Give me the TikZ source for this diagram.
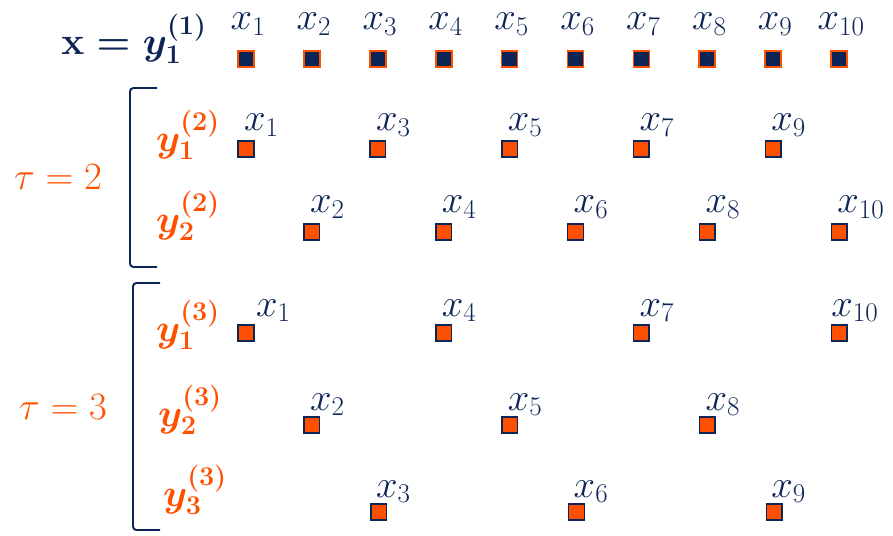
\RequirePackage{fix-cm}
\documentclass[tikz,border=0pt]{standalone}
\usepackage{amsmath}
\definecolor{navy}{HTML}{0D2556}
\definecolor{orng}{HTML}{FF5000}
\begin{document}
\begin{tikzpicture}[x=0.03cm,y=-0.03cm,
  topsq/.style={draw=orng,fill=navy,line width=1.4pt,minimum size=0.48cm,inner sep=0pt},
  sq/.style={draw=navy,fill=orng,line width=1.3pt,minimum size=0.47cm,inner sep=0pt},
  lab/.style={text=navy,inner sep=0pt,font=\fontsize{33}{38}\selectfont},
  ylab/.style={text=orng,inner sep=0pt,font=\fontsize{33}{38}\selectfont\boldmath},
  brk/.style={draw=navy,line width=1.7pt,rounded corners=3pt}]
\useasboundingbox (0,0) rectangle (893,536);
% top row
\foreach \i in {1,...,10}{
  \pgfmathsetmacro\xx{246+65.9*(\i-1)}
  \node[topsq] (t\i) at (\xx,59) {};
  \node[lab,anchor=base] (tl\i) at (\xx+2,30) {$x_{\i}$};
}
\node[lab,anchor=base,font=\fontsize{33}{38}\selectfont\boldmath] (xy) at (134,55) {$\mathbf{x}=y_1^{(1)}$};
% tau = 2
\node[text=orng,inner sep=0pt,anchor=base,font=\fontsize{33}{38}\selectfont] (tau2) at (58,190) {$\tau=2$};
\draw[brk] (157,88) -- (130,88) -- (130,267) -- (157,267);
\node[ylab] (y12) at (188,135) {$y_1^{(2)}$};
\node[ylab] (y22) at (188,216) {$y_2^{(2)}$};
\foreach \i in {1,3,5,7,9}{
  \pgfmathsetmacro\xx{246+65.9*(\i-1)}
  \node[sq] (a\i) at (\xx,149) {};
  \node[lab,anchor=base west] (al\i) at (\xx-2,131) {$x_{\i}$};
}
\foreach \i in {2,4,6,8,10}{
  \pgfmathsetmacro\xx{246+65.9*(\i-1)}
  \node[sq] (b\i) at (\xx,232) {};
  \node[lab,anchor=base west] (bl\i) at (\xx-2,213) {$x_{\i}$};
}
% tau = 3
\node[text=orng,inner sep=0pt,anchor=base,font=\fontsize{33}{38}\selectfont] (tau3) at (63,419) {$\tau=3$};
\draw[brk] (160,283) -- (133,283) -- (133,530) -- (160,530);
\node[ylab] (y13) at (188,325) {$y_1^{(3)}$};
\node[ylab] (y23) at (190,410) {$y_2^{(3)}$};
\node[ylab] (y33) at (195,490) {$y_3^{(3)}$};
\foreach \i/\dx in {1/10,4/-2,7/-2,10/-8}{
  \pgfmathsetmacro\xx{246+65.9*(\i-1)}
  \node[sq] (c\i) at (\xx,333) {};
  \node[lab,anchor=base west] (cl\i) at (\xx+\dx,316) {$x_{\i}$};
}
\foreach \i in {2,5,8}{
  \pgfmathsetmacro\xx{246+65.9*(\i-1)}
  \node[sq] (d\i) at (\xx,425) {};
  \node[lab,anchor=base west] (dl\i) at (\xx-2,410) {$x_{\i}$};
}
\foreach \i in {3,6,9}{
  \pgfmathsetmacro\xx{246+65.9*(\i-1)}
  \node[sq] (e\i) at (\xx+1,512) {};
  \node[lab,anchor=base west] (el\i) at (\xx-2,497) {$x_{\i}$};
}
\end{tikzpicture}
\end{document}
